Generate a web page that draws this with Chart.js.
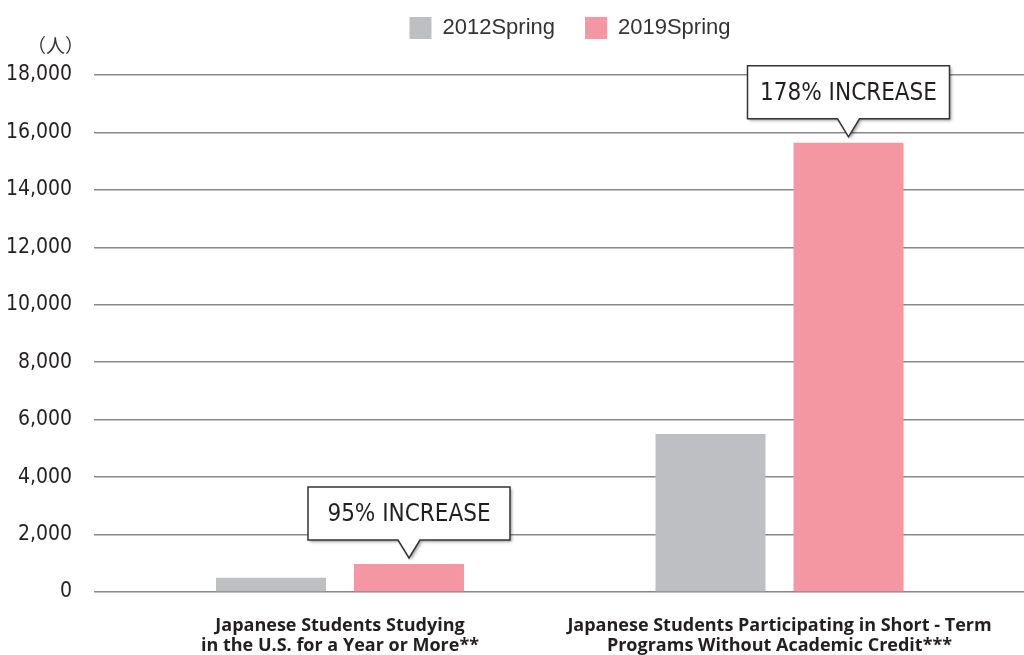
<!DOCTYPE html>
<html lang="ja">
<head>
  <meta charset="UTF-8">
  <title>Japanese Students</title>
  <script src="https://cdn.jsdelivr.net/npm/chart.js"></script>
  <style>
    body { margin: 0; background: #fff; }
    #wrap { width: 1024px; height: 655px; }
  </style>
</head>
<body>
  <div id="wrap"><canvas id="c"></canvas></div>
  <script>
    // dane
    const categories = [
      ['Japanese Students Studying', 'in the U.S. for a Year or More**'],
      ['Japanese Students Participating in Short - Term', 'Programs Without Academic Credit***']
    ];
    const series2012 = [500, 5500];
    const series2019 = [975, 15640];
    const increaseLabels = ['95% INCREASE', '178% INCREASE'];
    const yTicks = [0, 2000, 4000, 6000, 8000, 10000, 12000, 14000, 16000, 18000];

    const narrow = "'Liberation Sans Narrow', 'DejaVu Sans Condensed', sans-serif";

    // dymki nad rozowymi slupkami
    const calloutPlugin = {
      id: 'callouts',
      afterDatasetsDraw(chart) {
        const ctx = chart.ctx;
        const meta = chart.getDatasetMeta(1);
        meta.data.forEach((bar, i) => {
          const w = 202, h = 53, tipH = 18, half = 11;
          const tipX = bar.x, tipY = bar.y - 6;
          const bottom = tipY - tipH, top = bottom - h;
          const left = tipX - w / 2, right = tipX + w / 2;
          ctx.save();
          ctx.beginPath();
          ctx.moveTo(left, top);
          ctx.lineTo(right, top);
          ctx.lineTo(right, bottom);
          ctx.lineTo(tipX + half, bottom);
          ctx.lineTo(tipX, tipY);
          ctx.lineTo(tipX - half, bottom);
          ctx.lineTo(left, bottom);
          ctx.closePath();
          ctx.shadowColor = 'rgba(0,0,0,0.35)';
          ctx.shadowOffsetX = 2;
          ctx.shadowOffsetY = 2;
          ctx.shadowBlur = 3;
          ctx.fillStyle = '#fff';
          ctx.fill();
          ctx.shadowColor = 'transparent';
          ctx.lineWidth = 1.5;
          ctx.strokeStyle = '#333';
          ctx.stroke();
          ctx.fillStyle = '#231f20';
          ctx.font = '24px ' + narrow;
          ctx.textAlign = 'center';
          ctx.textBaseline = 'middle';
          ctx.fillText(increaseLabels[i], tipX, top + h / 2 + 1);
          ctx.restore();
        });
        // jednostka osi Y
        const y = chart.scales.y;
        ctx.save();
        ctx.fillStyle = '#333';
        ctx.font = "19px 'Noto Sans CJK JP', sans-serif";
        ctx.textAlign = 'right';
        ctx.textBaseline = 'middle';
        ctx.fillText('（人）', y.right - 10, y.top - 29);
        ctx.restore();
      },
      afterLayout(chart) {
        // przesun legende nad srodek wykresu
        chart.legend.left = 116;
        chart.legend.top -= 26;
      }
    };

    new Chart(document.getElementById('c'), {
      type: 'bar',
      data: {
        datasets: [
          {
            label: '2012Spring',
            data: series2012.map((v, i) => ({ x: i + 1, y: v })),
            backgroundColor: '#bebfc3'
          },
          {
            label: '2019Spring',
            data: series2019.map((v, i) => ({ x: i + 1, y: v })),
            backgroundColor: '#f597a2'
          }
        ]
      },
      options: {
        responsive: true,
        maintainAspectRatio: false,
        animation: false,
        categoryPercentage: 0.628,
        barPercentage: 0.797,
        layout: { padding: { top: 13, left: 0, right: 0, bottom: 0 } },
        plugins: {
          tooltip: { enabled: false },
          legend: {
            position: 'top',
            labels: {
              boxWidth: 22,
              boxHeight: 22,
              padding: 30,
              color: '#333',
              font: { family: "'Liberation Sans', sans-serif", size: 22 }
            }
          }
        },
        scales: {
          x: {
            type: 'linear',
            offset: false,
            min: 0.4403,
            max: 2.5563,
            afterBuildTicks: (s) => { s.ticks = categories.map((c, i) => ({ value: i + 1 })); },
            afterFit: (s) => { s.height = 63; },
            grid: { display: false, drawTicks: false },
            border: { display: false },
            ticks: {
              autoSkip: false,
              maxRotation: 0,
              padding: 24,
              color: '#231f20',
              font: { family: "'Open Sans', sans-serif", size: 18, weight: 'bold', lineHeight: 1.12 },
              callback: (v) => categories[v - 1]
            }
          },
          y: {
            min: 0,
            max: 18000,
            afterBuildTicks: (s) => { s.ticks = yTicks.map(v => ({ value: v })); },
            afterFit: (s) => { s.width = 94; },
            grid: { color: '#888', lineWidth: 1.5, drawTicks: false },
            border: { display: false },
            ticks: {
              padding: 22,
              color: '#231f20',
              font: { family: narrow, size: 21 },
              callback: (v) => v.toLocaleString('en-US')
            }
          }
        }
      },
      plugins: [calloutPlugin]
    });
  </script>
</body>
</html>
